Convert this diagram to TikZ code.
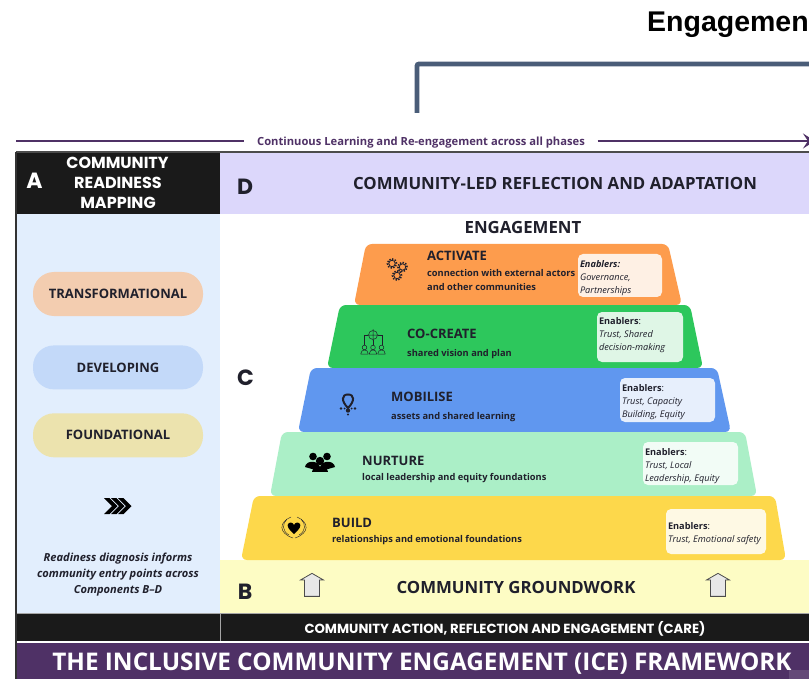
\documentclass[tikz,border=0pt]{standalone}
\usepackage{fontspec}
\setmainfont{Open Sans}
\newfontfamily\headfont{Poppins}
\newfontfamily\arialfont{Liberation Sans}
\usetikzlibrary{positioning,shapes.arrows,arrows.meta}

\definecolor{activatecol}{HTML}{FD9C4D}
\definecolor{cocreatecol}{HTML}{2DC75C}
\definecolor{mobilisecol}{HTML}{6097EF}
\definecolor{nurturecol}{HTML}{ABEFC7}
\definecolor{buildcol}{HTML}{FDD84B}
\definecolor{groundcol}{HTML}{FDFCC4}
\definecolor{inkcol}{HTML}{1A1A1A}
\definecolor{reflectcol}{HTML}{DCD7FB}
\definecolor{readycol}{HTML}{E2EEFD}
\definecolor{framecol}{HTML}{4F3166}
\definecolor{bracketcol}{HTML}{4A5D78}
\definecolor{transcol}{HTML}{F3CDB0}
\definecolor{devcol}{HTML}{C3D9F9}
\definecolor{foundcol}{HTML}{ECE3AE}
\definecolor{textcol}{HTML}{20202C}

\tikzset{
	panel/.style = {rectangle, inner sep = 0pt, outer sep = 0pt, text = textcol, align = center},
	tier/.style = {rounded corners = 6pt},
	headline/.style = {inner sep = 0pt, text = textcol, font = \fontsize{16.8}{18}\selectfont\bfseries},
	tiertitle/.style = {anchor = west, inner sep = 0pt, font = \fontsize{13}{14}\selectfont\bfseries, text = textcol},
	tierdesc/.style = {anchor = north west, inner sep = 0pt, align = left, font = \fontsize{9.3}{14}\selectfont\bfseries, text = textcol},
	enabler/.style = {rectangle, rounded corners = 5pt, fill = white, fill opacity = 0.85, inner sep = 0pt},
	enablertext/.style = {inner sep = 0pt, text = textcol, align = left, font = \fontsize{9.2}{13}\selectfont},
	pill/.style = {rectangle, rounded corners = 21pt, minimum width = 170pt, minimum height = 44pt, inner sep = 0pt,
		text = textcol, font = \fontsize{13}{15}\selectfont\bfseries},
	letter/.style = {inner sep = 0pt, font = \headfont\fontsize{22}{24}\selectfont\bfseries},
	icon/.style = {textcol, line width = 0.5pt},
	uparrow/.style = {single arrow, draw = black!70, fill = black!9, shape border rotate = 90, line width = 0.8pt,
		minimum height = 23pt, minimum width = 23pt, text width = 9pt, single arrow head extend = 3.5pt, single arrow tip angle = 120, inner sep = 1.5pt},
	loopline/.style = {draw = framecol, line width = 2.2pt},
}

\begin{document}
\begin{tikzpicture}[x = 1pt, y = -1pt]
	\clip (0,0) rectangle (809,679);
	\fill[white] (0,0) rectangle (809,679);

	\node[inner sep = 0pt, anchor = west, font = \arialfont\fontsize{28.5}{30}\selectfont\bfseries](engage_head) at (647,25){Engagemen};
	\coordinate (bracket_start) at (417,113);
	\coordinate (bracket_end) at (815,64);
	\draw[bracketcol, line width = 4.8pt, rounded corners = 2pt](bracket_start) |- (bracket_end);

	\node[panel, fill = readycol, minimum width = 204pt, minimum height = 399pt](panel_ready) at (118,413.5){};
	\node[panel, fill = groundcol, minimum width = 589pt, minimum height = 53pt](panel_ground) at (514.5,586.5){};
	\node[panel, fill = inkcol, text = white, minimum width = 204pt, minimum height = 62pt,
		font = \headfont\fontsize{16}{20}\selectfont\bfseries](panel_a) at (118,183){\hspace*{-1pt}COMMUNITY\\READINESS\\MAPPING};
	\node[panel, fill = reflectcol, minimum width = 589pt, minimum height = 62pt](panel_d) at (514.5,183){};
	\node[headline](reflect_label) at (555,183){COMMUNITY-LED REFLECTION AND ADAPTATION};
	\node[panel, fill = inkcol, minimum width = 204pt, minimum height = 28pt](band_left) at (118,627){};
	\node[panel, fill = inkcol, text = white, minimum width = 589pt, minimum height = 28pt](band_care) at (514.5,627){};
	\node[inner sep = 0pt, text = white, font = \headfont\fontsize{13.2}{14}\selectfont\bfseries](care_label) at (505,628.5){COMMUNITY ACTION, REFLECTION AND ENGAGEMENT (CARE)};
	\node[panel, fill = framecol, text = white, minimum width = 793pt, minimum height = 36pt](panel_title) at (412.5,661){};
	\node[inner sep = 0pt, text = white, font = \fontsize{24.3}{26}\selectfont\bfseries](title_label) at (422,664){THE INCLUSIVE COMMUNITY ENGAGEMENT (ICE) FRAMEWORK};
	\fill[framecol!88!white] (789,670) rectangle (809,679);
	\draw[black!35, line width = 1pt](16,613) -- (809,613);
	\draw[black!35, line width = 1pt](220,613) -- (220,641);
	\draw[black!70, line width = 1.5pt](16,152) -- (809,152);
	\draw[black!80, line width = 1.2pt](16,152) -- (16,679);

	\coordinate (loop_start) at (16,141);
	\coordinate (loop_end) at (815,141);
	\node[inner xsep = 12.5pt, inner ysep = 0pt, text = framecol, font = \fontsize{11.2}{13}\selectfont\bfseries](loop_label) at (421,142.5){Continuous Learning and Re-engagement across all phases};
	\draw[loopline](loop_start) -- (loop_start -| loop_label.west);
	\draw[loopline, -{Stealth[length = 12pt, width = 15pt, inset = 5pt]}](loop_start -| loop_label.east) -- (loop_end);

	\node[letter, text = white](let_a) at (34.5,181){A};
	\node[letter, text = textcol](let_d) at (245,187){D};
	\node[letter, text = textcol](let_c) at (245.5,378){C};
	\node[letter, text = textcol](let_b) at (245,592){B};

	\node[pill, fill = transcol](pill_trans) at (118,294){TRANSFORMATIONAL};
	\node[pill, fill = devcol, below = 29pt of pill_trans](pill_dev){DEVELOPING};
	\node[pill, fill = foundcol, below = 23.5pt of pill_dev](pill_found){FOUNDATIONAL};

	\foreach \x in {104,111,118}{
		\fill[black] (\x,498) -- ++(5.5,0) -- ++(8,8) -- ++(-8,8) -- ++(-5.5,0) -- ++(8,-8) -- cycle;
	}

	\node[panel, font = \fontsize{11.1}{16}\selectfont\bfseries\itshape](ready_note) at (118,575){Readiness diagnosis informs\\community entry points across\\Components B--D};

	\node[headline](engage_label) at (523,228){ENGAGEMENT};

	\fill[tier, activatecol] (354,305) -- (366,244) -- (668,244) -- (682,305) -- cycle;
	\fill[tier, cocreatecol] (327,368) -- (340,305) -- (690,305) -- (703,368) -- cycle;
	\fill[tier, mobilisecol] (298,432) -- (311,368) -- (717,368) -- (731,432) -- cycle;
	\fill[tier, nurturecol] (270,496) -- (282,432) -- (745,432) -- (757,496) -- cycle;
	\fill[tier, buildcol] (241,560) -- (254,496) -- (775,496) -- (786,560) -- cycle;

	\node[tiertitle](act_title) at (427,255.5){ACTIVATE};
	\node[tierdesc](act_desc) at (427,269.5){connection with external actors\\and other communities};
	\node[tiertitle](co_title) at (407,334){CO-CREATE};
	\node[tierdesc](co_desc) at (407,349){shared vision and plan};
	\node[tiertitle](mob_title) at (391,396.5){MOBILISE};
	\node[tierdesc](mob_desc) at (391,412){assets and shared learning};
	\node[tiertitle](nur_title) at (362,460.5){NURTURE};
	\node[tierdesc](nur_desc) at (362,473){local leadership and equity foundations};
	\node[tiertitle](bui_title) at (332,522.5){BUILD};
	\node[tierdesc](bui_desc) at (332,535){relationships and emotional foundations};

	\node[enabler, minimum width = 84pt, minimum height = 43pt](en_act) at (620,275.5){};
	\node[enablertext, right = 2pt of en_act.west, yshift = -3pt](en_act_text){\textbf{\textit{Enablers:}}\\\textit{Governance,}\\\textit{Partnerships}};
	\node[enabler, minimum width = 86pt, minimum height = 50pt](en_co) at (640,337){};
	\node[enablertext, right = 2pt of en_co.west, yshift = 2pt](en_co_text){\textbf{Enablers}:\\\textit{Trust, Shared}\\\textit{decision-making}};
	\node[enabler, minimum width = 95pt, minimum height = 44pt](en_mob) at (667.5,400){};
	\node[enablertext, right = 2pt of en_mob.west, yshift = -2pt](en_mob_text){\textbf{Enablers}:\\\textit{Trust, Capacity}\\\textit{Building, Equity}};
	\node[enabler, minimum width = 95pt, minimum height = 43pt](en_nur) at (690.5,463.5){};
	\node[enablertext, right = 2pt of en_nur.west, yshift = -3pt](en_nur_text){\textbf{Enablers}:\\\textit{Trust, Local}\\\textit{Leadership, Equity}};
	\node[enabler, minimum width = 100pt, minimum height = 45pt](en_bui) at (716,531.5){};
	\node[enablertext, right = 2pt of en_bui.west, yshift = -2pt](en_bui_text){\textbf{Enablers}:\\\textit{Trust, Emotional safety}};

	\begin{scope}[shift = {(398,268)}, icon]
		\draw[dash pattern = on 1.4pt off 1.4pt, line width = 1.6pt] (-6,-4.5) circle (4.6pt) (4.5,-1) circle (4.6pt) (-1,7.5) circle (4.6pt);
		\draw[line width = 0.8pt] (-6,-4.5) circle (3.2pt) (4.5,-1) circle (3.2pt) (-1,7.5) circle (3.2pt);
	\end{scope}

	\begin{scope}[shift = {(373,342)}, icon]
		\draw (0,-7) circle (4.5pt) (0,-13) -- (0,-1) (-6,-7) -- (6,-7);
		\draw (-5,-7) -| (-9,3) (5,-7) -| (9,3) (0,-2) -- (0,3);
		\foreach \x in {-8.5,0,8.5}{
			\draw (\x,5.5) circle (2.3pt);
			\draw (\x-3.6,12) -- (\x-3.6,11.5) arc[start angle = 180, end angle = 0, radius = 3.6pt] -- (\x+3.6,12) -- cycle;
		}
	\end{scope}

	\begin{scope}[shift = {(348,404)}, icon]
		\draw[line width = 2pt] (0,4) .. controls (-7,-3) and (-6.5,-9.5) .. (0,-9.5) .. controls (6.5,-9.5) and (7,-3) .. (0,4) -- cycle;
		\fill (-7,4.5) circle (1.3pt) (-3.5,4.5) circle (1pt) (3.5,4.5) circle (1pt) (7,4.5) circle (1.3pt) (0,6.5) circle (2.2pt) (0,10.5) circle (1.2pt);
	\end{scope}

	\begin{scope}[shift = {(320,463)}, icon]
		\fill[black] (-7,-6.5) circle (3.8pt) (7,-6.5) circle (3.8pt);
		\fill[black] (-15,4) .. controls (-14,-3) and (-2,-3) .. (0,4) .. controls (2,-3) and (14,-3) .. (15,4) -- (8,6) -- (-8,6) -- cycle;
		\fill[black] (0,-2) circle (4.2pt);
		\fill[black] (-8,9) .. controls (-8,2) and (8,2) .. (8,9) -- cycle;
	\end{scope}

	\begin{scope}[shift = {(294,527)}, icon]
		\fill[black] (0,7) .. controls (-6,2) and (-7,-1) .. (-6,-3) .. controls (-5,-5) and (-1,-5) .. (0,-2) .. controls (1,-5) and (5,-5) .. (6,-3) .. controls (7,-1) and (6,2) .. (0,7) -- cycle;
		\draw[line width = 0.4pt] (-3,-10) .. controls (-15,-5) and (-16,6) .. (-1,11) (3,-10) .. controls (15,-5) and (16,6) .. (1,11);
		\draw[line width = 0.4pt] (-7,-8) .. controls (-12,-3) and (-12,4) .. (-5,8) (7,-8) .. controls (12,-3) and (12,4) .. (5,8);
	\end{scope}

	\node[uparrow](arrow_left) at (312,587){};
	\node[uparrow](arrow_right) at (718,587){};
	\node[headline](ground_label) at (516,587){COMMUNITY GROUNDWORK};
\end{tikzpicture}
\end{document}
